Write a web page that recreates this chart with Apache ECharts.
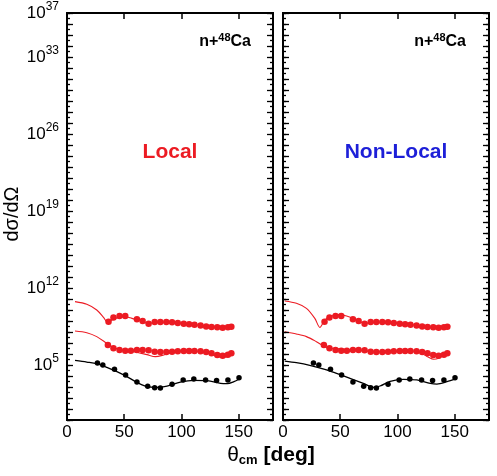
<!DOCTYPE html>
<html><head><meta charset="utf-8">
<script src="https://cdn.jsdelivr.net/npm/echarts@6/dist/echarts.min.js"></script>
<style>html,body{margin:0;padding:0;background:#fff}#c{width:497px;height:476px}</style>
</head><body><div id="c"></div>
<script>
// ---- Data (angles in degrees, cross sections stored as log10 of value) ----
const yLabelExponents = [5, 12, 19, 26, 33, 37];

// experimental points (shared by both panels)
const topPtsAngle = [36.3, 40.6, 45.9, 50.9, 61.1, 66.1, 71.3, 76.6, 81.6, 86.8, 91.8, 96.8, 102.0, 106.7, 111.4, 116.7, 121.6, 126.3, 131.3, 136.0, 140.6, 143.6];
const topPtsLog   = [8.94, 9.31, 9.45, 9.45, 9.17, 9.00, 8.76, 8.90, 8.91, 8.91, 8.88, 8.82, 8.75, 8.71, 8.67, 8.58, 8.51, 8.46, 8.43, 8.39, 8.43, 8.48];

const midPtsAngle = [35.7, 40.6, 45.9, 50.9, 55.8, 61.1, 66.1, 71.3, 76.6, 81.6, 86.8, 91.8, 96.8, 102.0, 106.7, 111.4, 116.7, 121.6, 126.3, 131.3, 136.0, 140.6, 143.6];
const midPtsLog   = [6.82, 6.52, 6.36, 6.30, 6.30, 6.36, 6.36, 6.33, 6.21, 6.18, 6.18, 6.21, 6.24, 6.27, 6.27, 6.27, 6.24, 6.18, 6.06, 5.91, 5.85, 5.94, 6.06];

const lowPtsAngle = [26.6, 31.3, 41.5, 51.2, 61.1, 70.5, 76.6, 81.6, 91.8, 101.5, 110.8, 121.1, 130.7, 140.6, 150.3];
const lowPtsLog   = [5.18, 5.00, 4.61, 4.09, 3.45, 3.06, 2.94, 2.91, 3.24, 3.64, 3.73, 3.64, 3.58, 3.64, 3.85];

// Local model curves
const locTopAngle = [7.0, 17.3, 26.0, 31.9, 35.7, 39.2, 45.0, 50.9, 56.7, 64.0, 70.5, 75.7, 87.4, 99.1, 110.8, 122.5, 134.2, 143.0, 145.9];
const locTopLog   = [10.76, 10.52, 10.00, 9.33, 8.85, 9.09, 9.33, 9.39, 9.24, 9.03, 8.79, 8.85, 8.91, 8.79, 8.67, 8.52, 8.42, 8.48, 8.55];
const locMidAngle = [7.0, 17.3, 26.0, 34.8, 40.6, 48.0, 58.2, 69.9, 77.2, 84.5, 93.3, 105.0, 116.7, 125.4, 134.2, 140.1, 144.4];
const locMidLog   = [8.09, 7.94, 7.58, 6.97, 6.58, 6.36, 6.21, 5.94, 5.76, 5.91, 6.18, 6.30, 6.24, 6.00, 5.70, 5.76, 6.06];
const locLowAngle = [7.0, 17.3, 26.0, 34.8, 43.6, 52.3, 61.1, 69.9, 78.7, 87.4, 99.1, 110.8, 122.5, 134.2, 140.1, 145.9, 150.3];
const locLowLog   = [5.42, 5.27, 5.12, 4.79, 4.39, 3.94, 3.42, 3.03, 2.97, 3.09, 3.45, 3.61, 3.58, 3.33, 3.30, 3.48, 3.70];

// Non-local model curves
const nlTopAngle = [1.5, 11.7, 20.5, 27.8, 32.2, 36.5, 40.9, 48.2, 55.6, 64.3, 71.1, 81.9, 93.6, 105.3, 117.0, 128.7, 136.0, 140.4, 146.2];
const nlTopLog   = [10.82, 10.61, 10.15, 9.24, 8.42, 9.09, 9.39, 9.58, 9.45, 9.09, 8.79, 8.91, 8.85, 8.73, 8.61, 8.42, 8.33, 8.42, 8.55];
const nlMidAngle = [1.5, 11.7, 20.5, 29.2, 36.5, 42.4, 52.6, 64.3, 76.0, 87.7, 99.4, 111.1, 119.9, 127.2, 131.6, 136.0, 140.4, 143.3];
const nlMidLog   = [8.03, 7.82, 7.58, 7.12, 6.67, 6.52, 6.45, 6.36, 6.24, 6.21, 6.27, 6.30, 6.12, 5.70, 5.52, 5.61, 5.91, 6.12];
const nlLowAngle = [1.5, 11.7, 23.4, 36.5, 46.8, 58.5, 70.2, 78.9, 84.8, 93.6, 105.3, 117.0, 128.7, 134.5, 143.3, 150.6];
const nlLowLog   = [5.36, 5.21, 4.97, 4.61, 4.24, 3.79, 3.33, 2.97, 3.09, 3.52, 3.70, 3.64, 3.33, 3.27, 3.48, 3.73];

// ---- Build ----
const RED = '#ec1b23', BLACK = '#000', BLUE = '#1d1fd8';
const FONT = '"Liberation Sans", Arial, Helvetica, sans-serif';
const pairs = (a, l) => a.map((x, i) => [x, Math.pow(10, l[i])]);

const grids = [
  {left: 67, top: 13, width: 206, height: 407, outerBoundsMode: 'none', containLabel: false},
  {left: 283, top: 13, width: 206, height: 407, outerBoundsMode: 'none', containLabel: false}
];

const xAxes = [], yAxes = [];
for (let g = 0; g < 2; g++) {
  ['bottom', 'top'].forEach(pos => {
    xAxes.push({
      type: 'value', gridIndex: g, position: pos, min: 0, max: 180, interval: 50, z: 10,
      axisLine: {show: true, onZero: false, lineStyle: {color: '#000', width: 2}},
      axisTick: {show: true, inside: true, length: 6, lineStyle: {color: '#000', width: 1.5, opacity: 1}},
      axisLabel: {show: pos === 'bottom', color: '#000', fontSize: 17, fontFamily: FONT, margin: 4, showMaxLabel: false},
      splitLine: {show: false}
    });
  });
  [['left', true], ['left', false], ['right', true], ['right', false]].forEach(([pos, major]) => {
    const withLabels = g === 0 && pos === 'left' && major;
    yAxes.push({
      type: 'log', gridIndex: g, position: pos, min: 1, max: 1e37, interval: major ? 1 : 0.5, z: 10,
      axisLine: {show: true, onZero: false, lineStyle: {color: '#000', width: 2}},
      axisTick: {show: true, inside: true, length: major ? 6 : 3, lineStyle: {color: '#000', width: 1.3, opacity: 1}},
      axisLabel: withLabels ? {
        show: true, margin: 8, color: '#000', fontFamily: FONT, hideOverlap: false,
        formatter: v => {
          const e = Math.round(Math.log10(v));
          return yLabelExponents.includes(e) ? '{b|10}{s|' + e + '}' : '{h|.}';
        },
        rich: {
          b: {fontSize: 17, lineHeight: 24, fontFamily: FONT, color: '#000'},
          s: {fontSize: 12, lineHeight: 10, verticalAlign: 'top', fontFamily: FONT, color: '#000'},
          h: {fontSize: 2, lineHeight: 2, color: 'rgba(255,255,255,0)'}
        }
      } : {show: false},
      splitLine: {show: false}
    });
  });
}

const series = [];
const panels = [
  {g: 0, curves: [[locTopAngle, locTopLog, RED], [locMidAngle, locMidLog, RED], [locLowAngle, locLowLog, BLACK]]},
  {g: 1, curves: [[nlTopAngle, nlTopLog, RED], [nlMidAngle, nlMidLog, RED], [nlLowAngle, nlLowLog, BLACK]]}
];
panels.forEach(p => {
  p.curves.forEach(c => {
    series.push({type: 'line', xAxisIndex: p.g * 2, yAxisIndex: p.g * 4, data: pairs(c[0], c[1]),
      showSymbol: false, smooth: 0.3, clip: false, lineStyle: {color: c[2], width: c[2] === BLACK ? 1.3 : 1.1}});
  });
  [[topPtsAngle, topPtsLog, RED, 6.5], [midPtsAngle, midPtsLog, RED, 6.5], [lowPtsAngle, lowPtsLog, BLACK, 5.5]].forEach(s => {
    series.push({type: 'scatter', xAxisIndex: p.g * 2, yAxisIndex: p.g * 4, data: pairs(s[0], s[1]), clip: false,
      symbol: 'circle', symbolSize: s[3], itemStyle: {color: s[2], opacity: 1}});
  });
});

const labelRich = {
  a: {fontSize: 16, fontWeight: 'bold', fontFamily: FONT, lineHeight: 20, fill: '#000'},
  s: {fontSize: 11, fontWeight: 'bold', fontFamily: FONT, lineHeight: 8, verticalAlign: 'top', fill: '#000'}
};

const graphic = [
  {type: 'text', x: 12, y: 214, rotation: Math.PI / 2,
    style: {text: 'dσ/dΩ', font: '20px ' + FONT, fill: '#000', align: 'center', verticalAlign: 'middle'}},
  {type: 'text', x: 271, y: 455,
    style: {text: '{t|θ}{c|cm}{d| [deg]}', align: 'center', verticalAlign: 'middle',
      rich: {
        t: {fontSize: 21, fontFamily: FONT, lineHeight: 24, fill: '#000'},
        c: {fontSize: 13, fontWeight: 'bold', fontFamily: FONT, lineHeight: 12, verticalAlign: 'bottom', fill: '#000'},
        d: {fontSize: 21, fontWeight: 'bold', fontFamily: FONT, lineHeight: 24, fill: '#000'}
      }}},
  {type: 'text', x: 251, y: 42,
    style: {text: '{a|n+}{s|48}{a|Ca}', align: 'right', verticalAlign: 'middle', rich: labelRich}},
  {type: 'text', x: 466, y: 42,
    style: {text: '{a|n+}{s|48}{a|Ca}', align: 'right', verticalAlign: 'middle', rich: labelRich}},
  {type: 'text', x: 170, y: 152,
    style: {text: 'Local', font: 'bold 21px ' + FONT, fill: RED, align: 'center', verticalAlign: 'middle'}},
  {type: 'text', x: 396, y: 152,
    style: {text: 'Non-Local', font: 'bold 21px ' + FONT, fill: BLUE, align: 'center', verticalAlign: 'middle'}}
];

const chart = echarts.init(document.getElementById('c'));
chart.setOption({
  animation: false,
  grid: grids,
  xAxis: xAxes,
  yAxis: yAxes,
  series: series,
  graphic: graphic
});
</script></body></html>
